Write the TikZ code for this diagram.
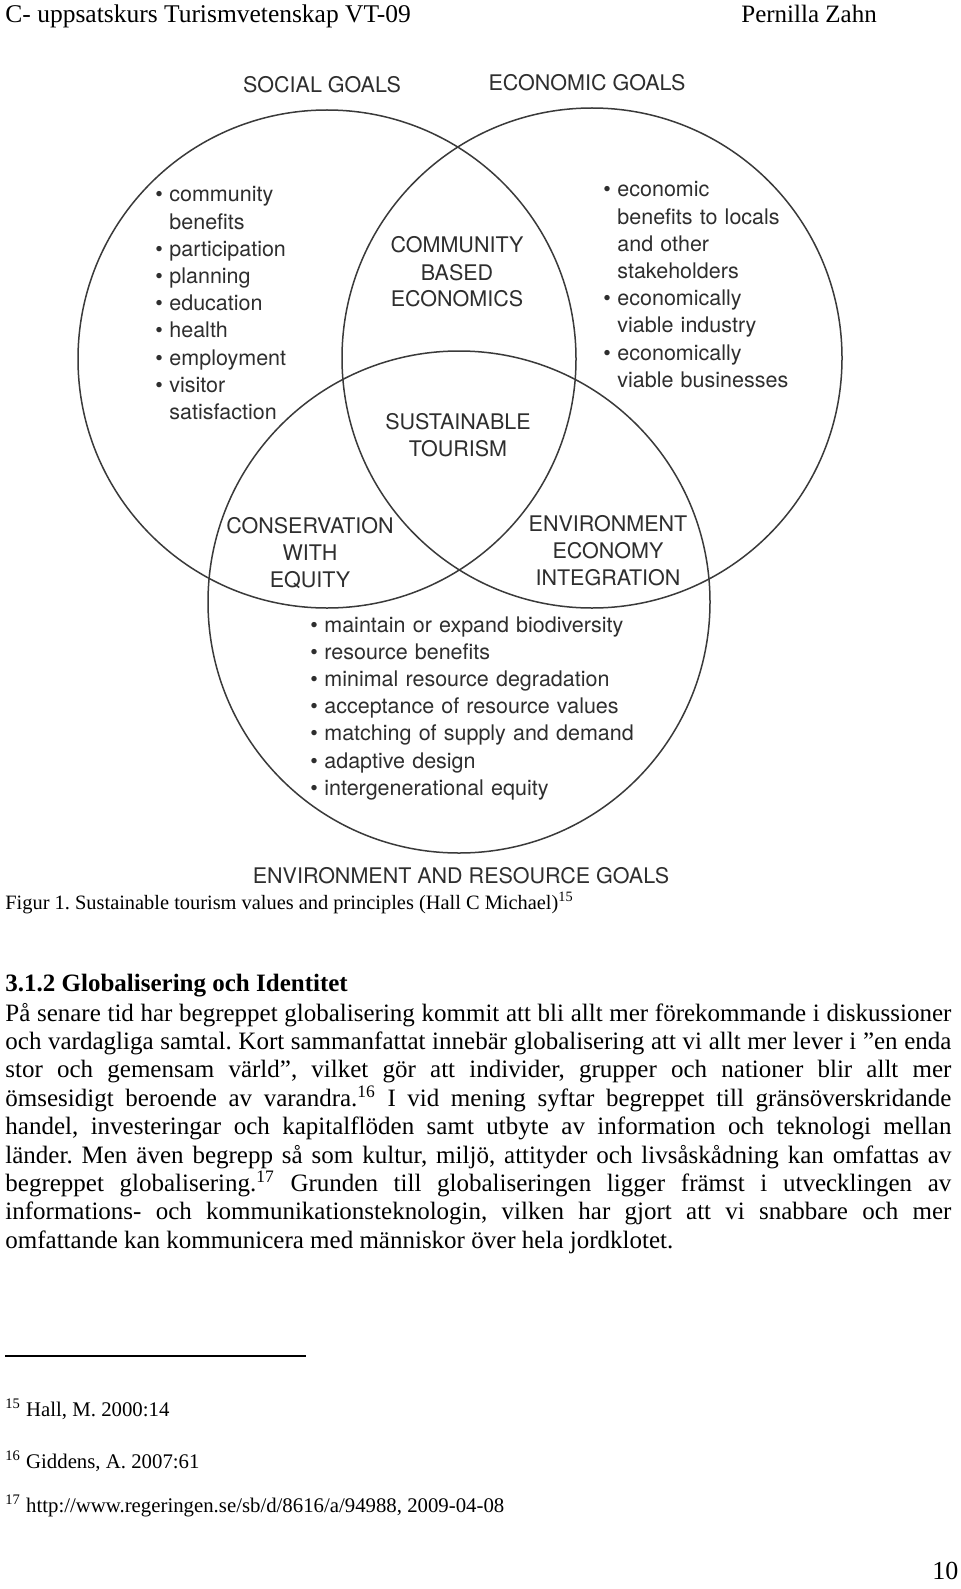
\documentclass[tikz,border=0pt]{standalone}
\usepackage{fontspec}
\setmainfont{Liberation Serif}
\newfontfamily\figfont{TeX Gyre Heros}
\frenchspacing
\definecolor{figink}{HTML}{2E2E2E}
\definecolor{figline}{HTML}{3A3A3A}
\newcommand\itm{\leavevmode\llap{\textbullet\hspace{3.3pt}}}
\tikzset{
  goal/.style={font=\figfont\fontsize{10.75}{13.5}\selectfont, text=figink, inner sep=0pt},
  region/.style={goal, align=center, text width=160pt, anchor=base},
  items/.style={goal, font=\figfont\fontsize{10.75}{13.6}\selectfont, align=left, text width=200pt, anchor=base west},
  circ/.style={draw=figline, line width=0.75pt},
  page/.style={font=\fontsize{12.5}{14.2}\selectfont, inner sep=0pt, anchor=base west},
  note/.style={font=\fontsize{10.4}{12}\selectfont, inner sep=0pt, anchor=base west}
}
\begin{document}
\begin{tikzpicture}[x=0.5pt,y=-0.5pt]
\useasboundingbox[fill=white] (0,0) rectangle (960,1589);
\node[page, font=\fontsize{12.75}{14.2}\selectfont] (head) at (5,23) {C- uppsatskurs Turismvetenskap VT-09};
\node[page] (name) at (741,23) {Pernilla Zahn};
\draw[circ] (327,359) circle (249);
\draw[circ] (592,358) circle (250);
\draw[circ] (459,602) circle (251);
\node[goal, anchor=base] (social) at (322,93) {SOCIAL GOALS};
\node[goal, anchor=base] (economic) at (587,91) {ECONOMIC GOALS};
\node[goal, anchor=base] (environment) at (461,883) {ENVIRONMENT AND RESOURCE GOALS};
\node[region] (cbe) at (457,253) {COMMUNITY\\BASED\\ECONOMICS};
\node[region] (st) at (458,429) {SUSTAINABLE\\TOURISM};
\node[region] (cwe) at (310,533) {CONSERVATION\\WITH\\EQUITY};
\node[region] (eei) at (608,531) {ENVIRONMENT\\ECONOMY\\INTEGRATION};
\node[items] (sociallist) at (169,202) {\itm community\\benefits\\\itm participation\\\itm planning\\\itm education\\\itm health\\\itm employment\\\itm visitor\\satisfaction};
\node[items] (economiclist) at (617,197) {\itm economic\\benefits to locals\\and other\\stakeholders\\\itm economically\\viable industry\\\itm economically\\viable businesses};
\node[items, text width=260pt] (envlist) at (324,632) {\itm maintain or expand biodiversity\\\itm resource benefits\\\itm minimal resource degradation\\\itm acceptance of resource values\\\itm matching of supply and demand\\\itm adaptive design\\\itm intergenerational equity};
\node[note, font=\fontsize{10.2}{12}\selectfont] (caption) at (5,909) {Figur 1. Sustainable tourism values and principles (Hall C Michael)\textsuperscript{15}};
\node[page, font=\bfseries\fontsize{12.5}{14.2}\selectfont] (section) at (5,991) {3.1.2 Globalisering och Identitet};
\node[page, text width=473pt, align=justify] (text) at (5,1021) {\hyphenpenalty=10000 \emergencystretch=20pt
På senare tid har begreppet globalisering kommit att bli allt mer förekommande i diskussioner\linebreak
och vardagliga samtal. Kort sammanfattat innebär globalisering att vi allt mer lever i ”en enda\linebreak
stor och gemensam värld”, vilket gör att individer, grupper och nationer blir allt mer\linebreak
ömsesidigt beroende av varandra.\textsuperscript{16} I vid mening syftar begreppet till gränsöverskridande\linebreak
handel, investeringar och kapitalflöden samt utbyte av information och teknologi mellan\linebreak
länder. Men även begrepp så som kultur, miljö, attityder och livsåskådning kan omfattas av\linebreak
begreppet globalisering.\textsuperscript{17} Grunden till globaliseringen ligger främst i utvecklingen av\linebreak
informations- och kommunikationsteknologin, vilken har gjort att vi snabbare och mer\linebreak
omfattande kan kommunicera med människor över hela jordklotet.};
\coordinate (rule-l) at (5,1356);
\coordinate (rule-r) at (306,1356);
\draw[line width=0.6pt] (rule-l) -- (rule-r);
\node[note] (fn15) at (5,1416) {\textsuperscript{15} Hall, M. 2000:14};
\node[note] (fn16) at (5,1468) {\textsuperscript{16} Giddens, A. 2007:61};
\node[note] (fn17) at (5,1512) {\textsuperscript{17} http://www.regeringen.se/sb/d/8616/a/94988, 2009-04-08};
\node[page, font=\fontsize{13}{14.2}\selectfont] (pageno) at (932,1579) {10};
\end{tikzpicture}
\end{document}
